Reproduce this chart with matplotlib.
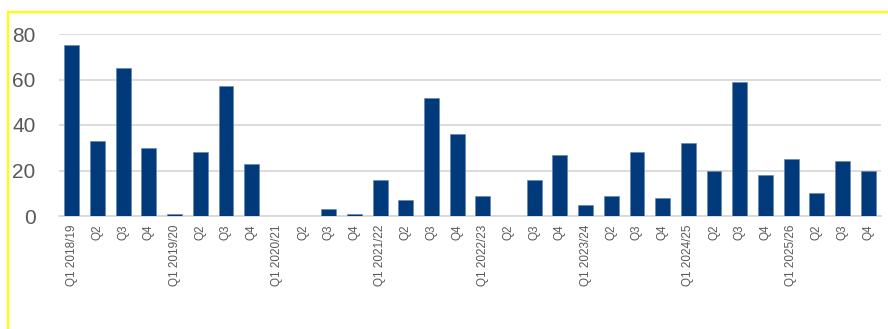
import matplotlib
matplotlib.use("Agg")
import matplotlib.pyplot as plt
from matplotlib.patches import Rectangle

categories = ["Q1 2018/19", "Q2", "Q3", "Q4",
              "Q1 2019/20", "Q2", "Q3", "Q4",
              "Q1 2020/21", "Q2", "Q3", "Q4",
              "Q1 2021/22", "Q2", "Q3", "Q4",
              "Q1 2022/23", "Q2", "Q3", "Q4",
              "Q1 2023/24", "Q2", "Q3", "Q4",
              "Q1 2024/25", "Q2", "Q3", "Q4",
              "Q1 2025/26", "Q2", "Q3", "Q4"]
values = [75, 33, 65, 30,
          1, 28, 57, 23,
          0, 0, 3, 1,
          16, 7, 52, 36,
          9, 0, 16, 27,
          5, 9, 28, 8,
          32, 20, 59, 18,
          25, 10, 24, 20]
y_ticks = [0, 20, 40, 60, 80]

plt.rcParams['font.family'] = ['Liberation Sans', 'DejaVu Sans']

W, H = 888, 329
fig = plt.figure(figsize=(W / 100, H / 100), dpi=100)
ax = fig.add_axes([59 / W, 1 - 216 / H, (881 - 59) / W, (216 - 34) / H])

x = list(range(len(categories)))
ax.bar(x, values, width=0.58, color="#003A7A", edgecolor="#5f82b0",
       linewidth=0.4, zorder=3)

ax.set_xlim(-0.5, len(categories) - 0.5)
ax.set_ylim(0, 80)
ax.set_yticks(y_ticks)
ax.set_yticklabels([str(v) for v in y_ticks])
ax.set_xticks(x)
ax.set_xticklabels(categories, rotation=90)

ax.grid(axis="y", color="#D9D9D9", linewidth=1.3, zorder=0)
ax.set_axisbelow(True)
for s in ["top", "right", "left"]:
    ax.spines[s].set_visible(False)
ax.spines["bottom"].set_color("#D9D9D9")
ax.spines["bottom"].set_linewidth(1.3)

ax.tick_params(axis="y", length=0, pad=17, labelsize=15, labelcolor="#595959")
ax.tick_params(axis="x", length=0, pad=6, labelsize=8.5, labelcolor="#595959")

# yellow frame (cropped on right and bottom)
fig.patches.append(Rectangle((8 / W, -0.1), 1.2, 1 - 12 / H + 0.1,
                             transform=fig.transFigure, fill=False,
                             edgecolor="#FFFF00", linewidth=1.6, zorder=10))

fig.savefig("out.png", dpi=100)
